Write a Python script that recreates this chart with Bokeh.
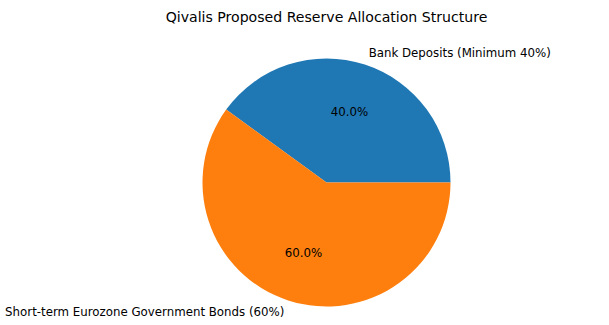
import math
from bokeh.plotting import figure
from bokeh.models import ColumnDataSource, Range1d
from bokeh.core.properties import value
from bokeh.embed import file_html
from bokeh.resources import INLINE

title = "Qivalis Proposed Reserve Allocation Structure"
categories = ["Bank Deposits (Minimum 40%)", "Short-term Eurozone Government Bonds (60%)"]
shares = [40, 60]
colors = ["#1f77b4", "#ff7f0e"]

W, H = 609, 325
R_PX = 124.0
CX, CY = 326.0, 182.0

total = float(sum(shares))
starts, ends, lx, ly, la, px, py, pct = [], [], [], [], [], [], [], []
acc = 0.0
for s in shares:
    a0 = 2 * math.pi * acc / total
    acc += s
    a1 = 2 * math.pi * acc / total
    mid = (a0 + a1) / 2
    starts.append(a0)
    ends.append(a1)
    lx.append(1.1 * math.cos(mid))
    ly.append(1.1 * math.sin(mid))
    la.append("left" if math.cos(mid) >= 0 else "right")
    px.append(0.6 * math.cos(mid))
    py.append(0.6 * math.sin(mid))
    pct.append(f"{100 * s / total:.1f}%")

src = ColumnDataSource(dict(start=starts, end=ends, color=colors, lx=lx, ly=ly,
                            la=la, px=px, py=py, pct=pct, label=categories))

p = figure(width=W, height=H, output_backend="svg", toolbar_location=None,
           min_border=0, outline_line_color=None)
p.x_range = Range1d(-CX / R_PX, (W - CX) / R_PX)
p.y_range = Range1d(-(H - CY) / R_PX, CY / R_PX)
p.axis.visible = False
p.grid.visible = False
p.background_fill_color = "white"
p.border_fill_color = "white"

p.wedge(x=0, y=0, radius=1, start_angle="start", end_angle="end",
        fill_color="color", line_color=None, source=src)

font = value("DejaVu Sans")
p.text(x="lx", y="ly", text="label", text_align="la", text_baseline="middle",
       text_font=font, text_font_size="11.8px", text_color="black", source=src)
p.text(x="px", y="py", text="pct", text_align="center", text_baseline="middle",
       text_font=font, text_font_size="11.8px", text_color="black", source=src)

p.text(x=[0], y=[(CY - 16) / R_PX], text=[title], text_align="center",
       text_baseline="middle", text_font=font, text_font_size="14.1px",
       text_color="black")

open("out.html", "w").write(file_html(p, INLINE))
